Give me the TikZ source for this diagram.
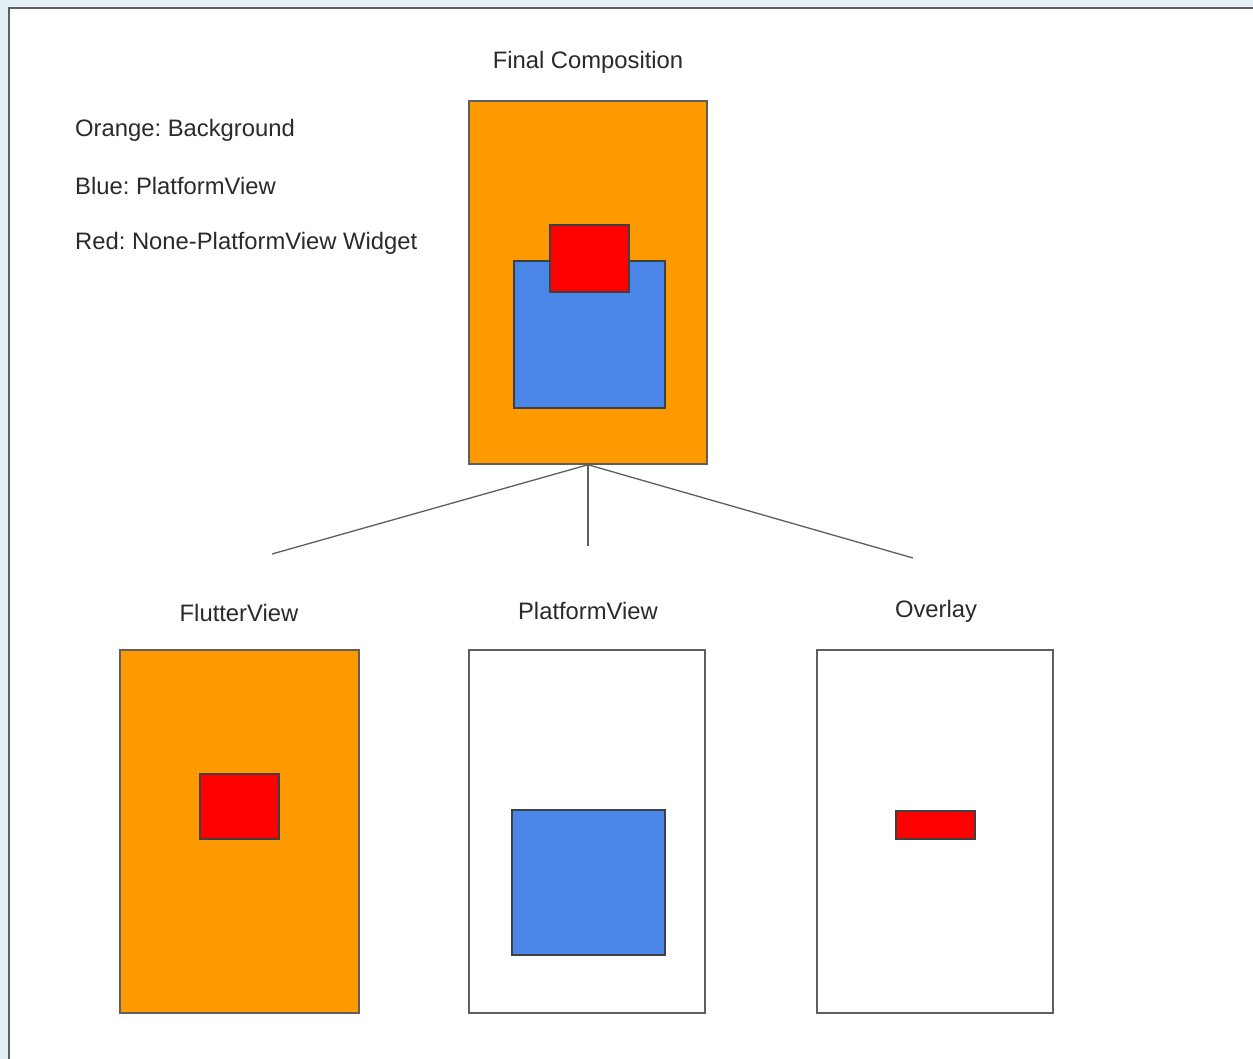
\documentclass[tikz,border=0pt]{standalone}
\usepackage{fontspec}
\setmainfont{Liberation Sans}
\usetikzlibrary{positioning}
\frenchspacing

\definecolor{bgorange}{HTML}{FF9900}
\definecolor{pvblue}{HTML}{4A86E8}
\definecolor{wred}{HTML}{FF0000}
\definecolor{edge}{HTML}{5F5F5F}
\definecolor{frame}{HTML}{E2EFF4}
\definecolor{txt}{HTML}{2A2A2A}

\begin{document}
\begin{tikzpicture}[x=1pt,y=1pt,yscale=-1,
  every node/.style={font=\fontsize{23.8}{28}\selectfont,text=txt},
  panel/.style={draw=edge,line width=1.5pt,inner sep=0pt,minimum width=#1},
  layer/.style={draw=black!75,line width=1.5pt,inner sep=0pt},
  caption/.style={inner sep=0pt}]
  % page frame
  \useasboundingbox (0,0) rectangle (1253,1059);
  \fill[frame] (0,0) rectangle (1253,1059);
  \fill[white] (9,8) rectangle (1253,1059);
  \draw[edge,line width=1.6pt] (9,1059) -- (9,8) -- (1253,8);

  % legend
  \node[caption,anchor=west] (lorange) at (75,130) {Orange: Background};
  \node[caption,anchor=west] (lblue) at (75,186) {Blue: PlatformView};
  \node[caption,anchor=west] (lred) at (75,243) {Red: None-PlatformView Widget};

  % final composition
  \node[panel=238,fill=bgorange,minimum height=363] (final) at (588,282.5) {};
  \node[layer,fill=pvblue,minimum width=151,minimum height=147] (finalblue) at (589.5,334.5) {};
  \node[layer,fill=wred,minimum width=79,minimum height=67] (finalred) at (589.5,258.5) {};
  \node[caption] (finaltitle) at (588,62) {Final Composition};

  % split into layers
  \coordinate (toflutter) at (272,554);
  \coordinate (toplatform) at (588,546);
  \coordinate (tooverlay) at (913,558);
  \draw[edge,line width=1.3pt] (final.south) -- (toflutter);
  \draw[edge,line width=1.3pt] (final.south) -- (toplatform);
  \draw[edge,line width=1.3pt] (final.south) -- (tooverlay);

  % FlutterView layer
  \node[panel=239,fill=bgorange,minimum height=363] (flutter) at (239.5,831.5) {};
  \node[layer,fill=wred,minimum width=79,minimum height=65] (flutterred) at (239.5,806.5) {};
  \node[caption] (fluttertitle) at (239,613) {FlutterView};

  % PlatformView layer
  \node[panel=236,fill=white,minimum height=363] (platform) at (587,831.5) {};
  \node[layer,fill=pvblue,minimum width=153,minimum height=145] (platformblue) at (588.5,882.5) {};
  \node[caption] (platformtitle) at (588,611) {PlatformView};

  % Overlay layer
  \node[panel=236,fill=white,minimum height=363] (overlay) at (935,831.5) {};
  \node[layer,fill=wred,minimum width=79,minimum height=28] (overlayred) at (935.5,825) {};
  \node[caption] (overlaytitle) at (936,611) {Overlay};
\end{tikzpicture}
\end{document}
